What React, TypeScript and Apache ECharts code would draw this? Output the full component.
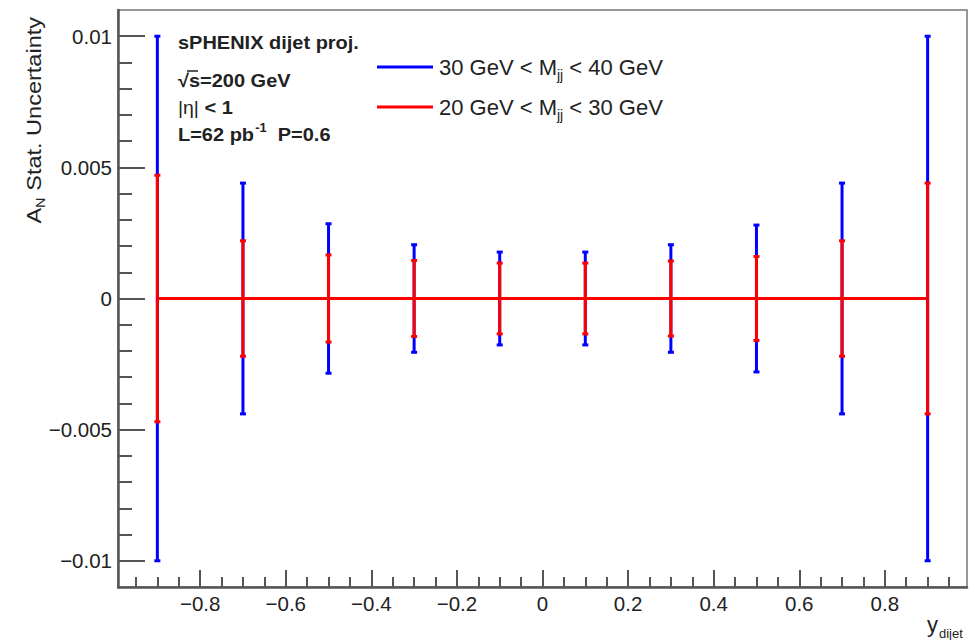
import React, { useEffect, useRef } from 'react';
import * as echarts from 'echarts';

// Rapidity bin centres and projected asymmetry values
const binCenters = [-0.9, -0.7, -0.5, -0.3, -0.1, 0.1, 0.3, 0.5, 0.7, 0.9];
const asymmetry = [0, 0, 0, 0, 0, 0, 0, 0, 0, 0];
// Statistical uncertainties per bin for the two dijet mass windows
const statErrHighMass = [0.0100, 0.0044, 0.00285, 0.00205, 0.00177, 0.00177, 0.00205, 0.0028, 0.0044, 0.0100];
const statErrLowMass = [0.0047, 0.0022, 0.00166, 0.00145, 0.00135, 0.00135, 0.00143, 0.0016, 0.0022, 0.0044];
const seriesNames = ['30 GeV < Mjj < 40 GeV', '20 GeV < Mjj < 30 GeV'];
const seriesColors = ['#0000ff', '#ff0000'];

// Axis ticks
const xMajorTicks = [-0.8, -0.6, -0.4, -0.2, 0, 0.2, 0.4, 0.6, 0.8];
const xMinorTicks = [
  -0.95, -0.9, -0.85, -0.75, -0.7, -0.65, -0.55, -0.5, -0.45, -0.35, -0.3, -0.25,
  -0.15, -0.1, -0.05, 0.05, 0.1, 0.15, 0.25, 0.3, 0.35, 0.45, 0.5, 0.55, 0.65,
  0.7, 0.75, 0.85, 0.9, 0.95,
];
const yMajorTicks = [-0.01, -0.005, 0, 0.005, 0.01];
const yMinorTicks = [
  -0.01, -0.009, -0.008, -0.007, -0.006, -0.005, -0.004, -0.003, -0.002, -0.001, 0,
  0.001, 0.002, 0.003, 0.004, 0.005, 0.006, 0.007, 0.008, 0.009, 0.01,
];
const xRange = [-0.992, 0.992];
const yRange = [-0.011, 0.011];

const FONT = '"Liberation Sans", Arial, Helvetica, sans-serif';
const INK = '#222';
const AXIS = '#555';

const fmtTick = (v: number) => {
  const r = Math.round(v * 100000) / 100000;
  if (r === 0) return '0';
  const s = String(Math.abs(r));
  return (r < 0 ? '\u2212' : '') + s;
};

const errorBarSeries = (name: string, color: string, errs: number[]) => ({
  name,
  type: 'custom',
  xAxisIndex: 0,
  yAxisIndex: 0,
  data: binCenters.map((x, i) => [x, asymmetry[i], errs[i]]),
  encode: { x: 0, y: 1 },
  renderItem: (_params: any, api: any) => {
    const x = api.value(0);
    const y = api.value(1);
    const e = api.value(2);
    const top = api.coord([x, y + e]);
    const bot = api.coord([x, y - e]);
    const cap = 3;
    const style = { stroke: color, lineWidth: 3 };
    return {
      type: 'group',
      children: [
        { type: 'line', shape: { x1: top[0], y1: top[1], x2: bot[0], y2: bot[1] }, style },
        { type: 'line', shape: { x1: top[0] - cap, y1: top[1], x2: top[0] + cap, y2: top[1] }, style },
        { type: 'line', shape: { x1: bot[0] - cap, y1: bot[1], x2: bot[0] + cap, y2: bot[1] }, style },
      ],
    };
  },
  z: 3,
});

const lineSeries = (name: string, color: string) => ({
  name,
  type: 'line',
  xAxisIndex: 0,
  yAxisIndex: 0,
  data: binCenters.map((x, i) => [x, asymmetry[i]]),
  showSymbol: false,
  color,
  lineStyle: { color, width: 3 },
  z: 4,
});

export default function App() {
  const ref = useRef<HTMLDivElement>(null);

  useEffect(() => {
    if (!ref.current) return;
    const chart = echarts.init(ref.current, null, { renderer: 'svg' });

    const subRich = {
      sub: { fontFamily: FONT, fontSize: 14, color: INK, padding: [16, 0, 0, 0] },
    };

    chart.setOption({
      animation: false,
      backgroundColor: '#ffffff',
      grid: {
        left: 118,
        right: 10,
        top: 10,
        bottom: 53,
        show: true,
        borderColor: '#777',
        borderWidth: 1.5,
        backgroundColor: 'transparent',
      },
      xAxis: [
        {
          type: 'value',
          min: xRange[0],
          max: xRange[1],
          position: 'bottom',
          axisLine: { show: true, onZero: false, lineStyle: { color: AXIS, width: 2.5 } },
          axisTick: { show: true, inside: true, length: 17, customValues: xMajorTicks, lineStyle: { color: AXIS, width: 2 } },
          axisLabel: {
            customValues: xMajorTicks,
            formatter: (v: number) => fmtTick(v),
            fontFamily: FONT,
            fontSize: 20.5,
            color: INK,
            margin: 6,
          },
          splitLine: { show: false },
        },
        {
          type: 'value',
          min: xRange[0],
          max: xRange[1],
          position: 'bottom',
          axisLine: { show: false, onZero: false },
          axisTick: { show: true, inside: true, length: 10, customValues: xMinorTicks, lineStyle: { color: AXIS, width: 2 } },
          axisLabel: { show: false },
          splitLine: { show: false },
        },
      ],
      yAxis: [
        {
          type: 'value',
          min: yRange[0],
          max: yRange[1],
          position: 'left',
          axisLine: { show: true, onZero: false, lineStyle: { color: AXIS, width: 2.5 } },
          axisTick: { show: true, inside: true, length: 27, customValues: yMajorTicks, lineStyle: { color: AXIS, width: 2 } },
          axisLabel: {
            customValues: yMajorTicks,
            formatter: (v: number) => fmtTick(v),
            fontFamily: FONT,
            fontSize: 20.5,
            color: INK,
            margin: 6,
          },
          splitLine: { show: false },
        },
        {
          type: 'value',
          min: yRange[0],
          max: yRange[1],
          position: 'left',
          axisLine: { show: false, onZero: false },
          axisTick: { show: true, inside: true, length: 14, customValues: yMinorTicks, lineStyle: { color: AXIS, width: 2 } },
          axisLabel: { show: false },
          splitLine: { show: false },
        },
      ],
      legend: {
        orient: 'vertical',
        left: 372,
        top: 51,
        itemWidth: 56,
        itemHeight: 3,
        itemGap: 14,
        icon: 'rect',
        data: seriesNames.map((n, i) => ({ name: n, itemStyle: { color: seriesColors[i] } })),
        formatter: (name: string) => name.replace('Mjj', 'M{sub|jj}'),
        textStyle: {
          fontFamily: FONT,
          fontSize: 22,
          color: INK,
          padding: [0, 0, 0, 1],
          rich: subRich,
        },
        selectedMode: false,
      },
      series: [
        lineSeries(seriesNames[0], seriesColors[0]),
        errorBarSeries(seriesNames[0], seriesColors[0], statErrHighMass),
        errorBarSeries(seriesNames[1], seriesColors[1], statErrLowMass),
        lineSeries(seriesNames[1], seriesColors[1]),
      ],
      graphic: [
        {
          type: 'text',
          x: 34,
          y: 17,
          rotation: Math.PI / 2,
          scaleX: 1.12,
          style: {
            text: 'A{sub|N} Stat. Uncertainty',
            font: `21px ${FONT}`,
            fill: INK,
            align: 'right',
            verticalAlign: 'middle',
            rich: { sub: { fontFamily: FONT, fontSize: 13, fill: INK, padding: [14, 0, 0, 0] } },
          },
        },
        {
          type: 'text',
          x: 927,
          y: 624,
          style: {
            text: 'y{sub|dijet}',
            font: `22px ${FONT}`,
            fill: INK,
            align: 'left',
            verticalAlign: 'middle',
            rich: { sub: { fontFamily: FONT, fontSize: 13, fill: INK, padding: [18, 0, 0, 1] } },
          },
        },
        {
          type: 'group',
          x: 178,
          y: 0,
          children: [
            {
              type: 'text',
              x: 0,
              y: 43,
              scaleX: 1.08,
              style: { text: 'sPHENIX dijet proj.', font: `bold 18.5px ${FONT}`, fill: INK, verticalAlign: 'middle' },
            },
            {
              type: 'text',
              x: 0,
              y: 81,
              scaleX: 1.08,
              style: { text: '\u221As=200 GeV', font: `bold 18.5px ${FONT}`, fill: INK, verticalAlign: 'middle' },
            },
            {
              type: 'line',
              shape: { x1: 9, y1: 71, x2: 20, y2: 71 },
              style: { stroke: INK, lineWidth: 1.5 },
            },
            {
              type: 'text',
              x: 0,
              y: 108,
              scaleX: 1.08,
              style: {
                text: '{n||\u03B7|} < 1',
                font: `bold 18.5px ${FONT}`,
                fill: INK,
                verticalAlign: 'middle',
                rich: { n: { fontFamily: FONT, fontSize: 18, fontWeight: 'normal', fill: INK } },
              },
            },
            {
              type: 'text',
              x: 0,
              y: 135,
              scaleX: 1.08,
              style: {
                text: 'L=62 pb{sup|-1}  P=0.6',
                font: `bold 18.5px ${FONT}`,
                fill: INK,
                verticalAlign: 'middle',
                rich: { sup: { fontFamily: FONT, fontSize: 12, fontWeight: 'bold', fill: INK, padding: [0, 0, 14, 1] } },
              },
            },
          ],
        },
      ],
    });

    return () => chart.dispose();
  }, []);

  return (
    <div
      ref={ref}
      style={{ position: 'absolute', left: 0, top: 0, width: 977, height: 640, background: '#fff' }}
    />
  );
}
